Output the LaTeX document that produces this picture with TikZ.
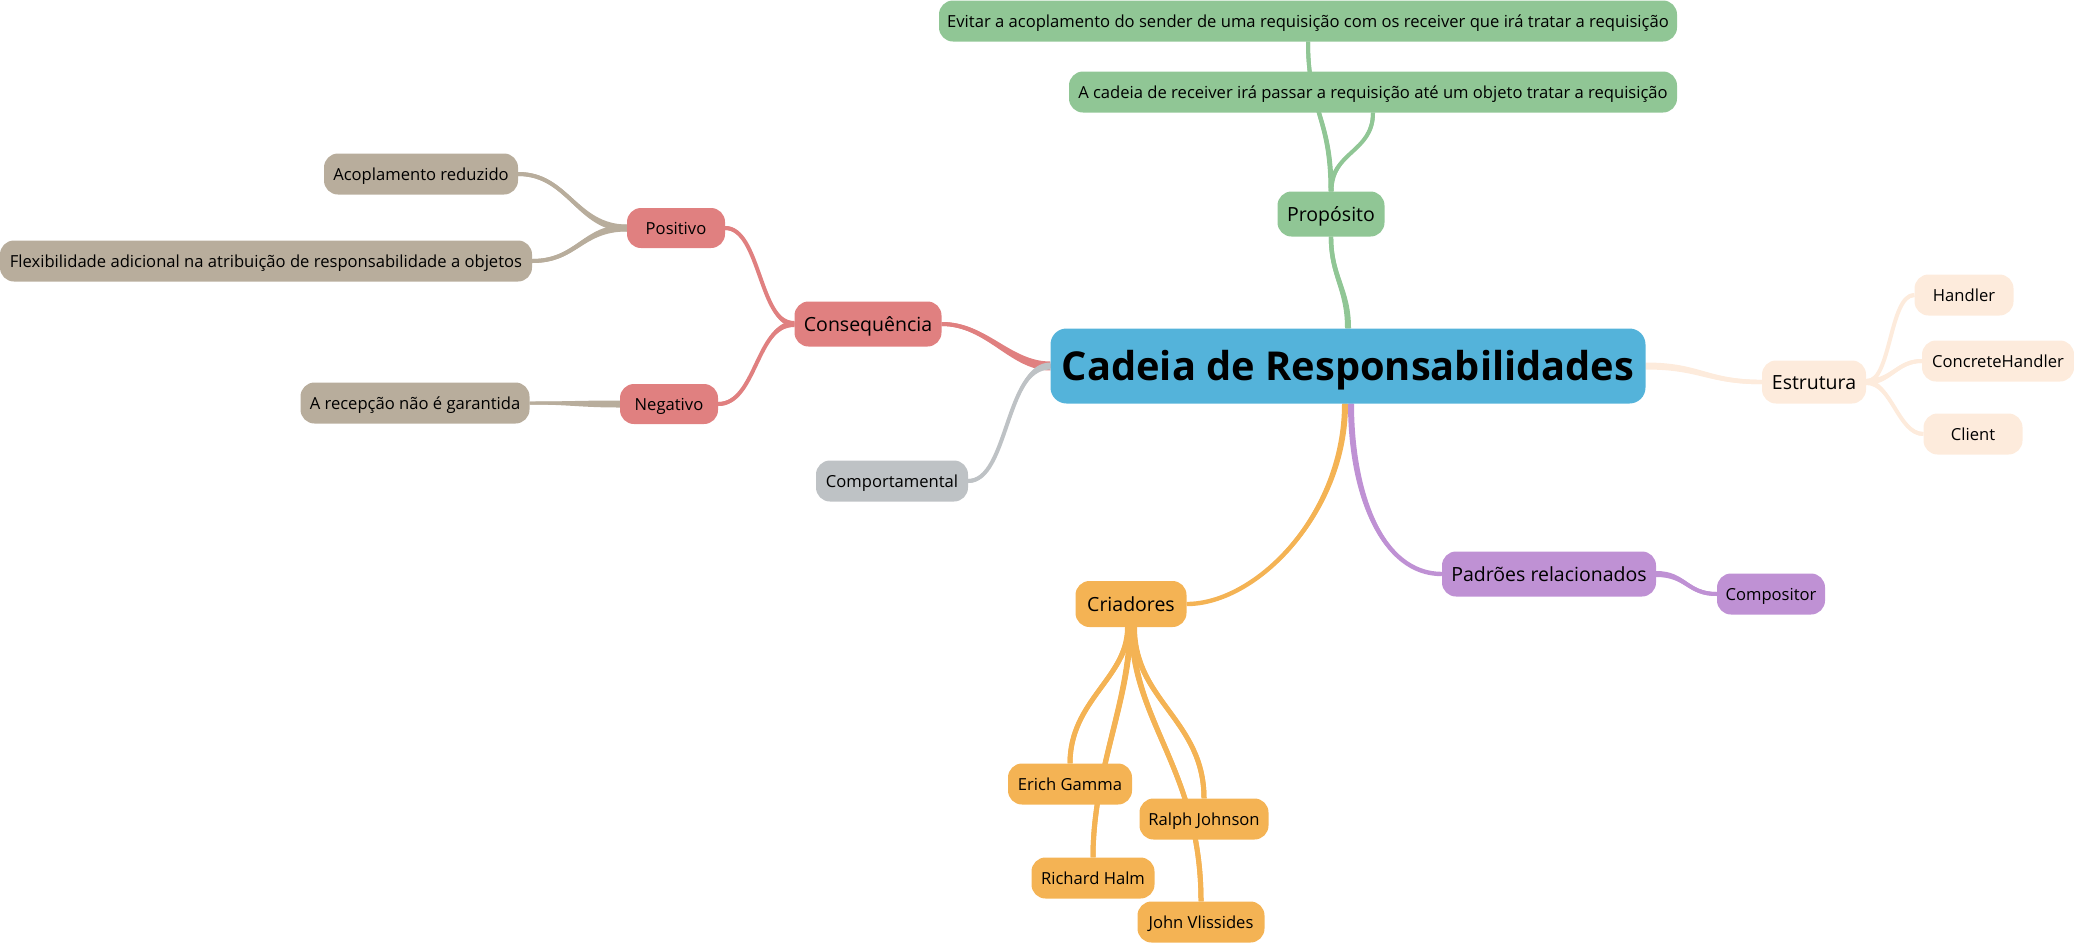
\documentclass[tikz,border=0pt]{standalone}
\usepackage{fontspec}
\setmainfont{Open Sans}
\usetikzlibrary{calc}
\pgfdeclarelayer{bg}
\pgfsetlayers{bg,main}
\definecolor{cblue}{HTML}{54B3DA}
\definecolor{cgreen}{HTML}{90C695}
\definecolor{cred}{HTML}{E08080}
\definecolor{ctan}{HTML}{B8AD9C}
\definecolor{cgrey}{HTML}{BEC2C5}
\definecolor{cpeach}{HTML}{FDEBDC}
\definecolor{cpurple}{HTML}{BF91D4}
\definecolor{corange}{HTML}{F4B354}
\tikzset{
 mmbox/.style={rounded corners=14pt, inner sep=0pt, align=center, text=black},
 lvlroot/.style={mmbox, rounded corners=16pt, font=\fontsize{39.8}{40}\selectfont\bfseries, text height=39.8pt, text depth=10.3pt},
 lvlone/.style={mmbox, font=\fontsize{19.5}{20}\selectfont, text height=19.5pt, text depth=5pt},
 lvltwo/.style={mmbox, font=\fontsize{16.6}{17}\selectfont, text height=16.6pt, text depth=4.3pt},
 sz/.style 2 args={minimum width=#1pt, minimum height=#2pt},
}
% horizontal-leaving tapered connector
\newcommand\conH[7]{%
 \fill[#1] ($(#2)+(0,-#6)$) .. controls ($(#2)+(#3)+(0,-#6)$) and ($(#4)+(#5)+(0,-#7)$) .. ($(#4)+(0,-#7)$) -- ($(#4)+(0,#7)$) .. controls ($(#4)+(#5)+(0,#7)$) and ($(#2)+(#3)+(0,#6)$) .. ($(#2)+(0,#6)$) -- cycle;
 \draw[#1,line width={2*#7}] (#2) .. controls ($(#2)+(#3)$) and ($(#4)+(#5)$) .. (#4);}
% vertical-leaving tapered connector
\newcommand\conV[7]{%
 \fill[#1] ($(#2)+(-#6,0)$) .. controls ($(#2)+(#3)+(-#6,0)$) and ($(#4)+(#5)+(-#7,0)$) .. ($(#4)+(-#7,0)$) -- ($(#4)+(#7,0)$) .. controls ($(#4)+(#5)+(#7,0)$) and ($(#2)+(#3)+(#6,0)$) .. ($(#2)+(#6,0)$) -- cycle;
 \draw[#1,line width={2*#7}] (#2) .. controls ($(#2)+(#3)$) and ($(#4)+(#5)$) .. (#4);}
\begin{document}
\begin{tikzpicture}[x=1pt,y=-1pt]
\useasboundingbox (0,0) rectangle (2074,943);
% nodes
\node[lvlroot, fill=cblue, sz={595}{75}] (root) at (1348,366) {Cadeia de Responsabilidades};
\node[lvlone, fill=cgreen, sz={107}{45}] (prop) at (1331,214) {Propósito};
\node[lvltwo, fill=cgreen, sz={738}{41}] (evitar) at (1308,21) {Evitar a acoplamento do sender de uma requisição com os receiver que irá tratar a requisição};
\node[lvltwo, fill=cgreen, sz={608}{41}] (cadeia) at (1373,92) {A cadeia de receiver irá passar a requisição até um objeto tratar a requisição};
\node[lvlone, fill=cred, sz={147}{45}] (cons) at (868,324) {Consequência};
\node[lvltwo, fill=cred, sz={98}{40}] (pos) at (676,228) {Positivo};
\node[lvltwo, fill=cred, sz={98}{40}] (neg) at (669,404) {Negativo};
\node[lvltwo, fill=ctan, sz={194}{41}] (acop) at (421,174) {Acoplamento reduzido};
\node[lvltwo, fill=ctan, sz={532}{41}] (flex) at (266,261) {Flexibilidade adicional na atribuição de responsabilidade a objetos};
\node[lvltwo, fill=ctan, sz={229}{41}] (recep) at (415,403) {A recepção não é garantida};
\node[lvltwo, fill=cgrey, sz={152}{41}] (comp) at (892,481) {Comportamental};
\node[lvlone, fill=cpeach, sz={104}{43}] (estr) at (1814,382) {Estrutura};
\node[lvltwo, fill=cpeach, sz={99}{41}] (hand) at (1964,295) {Handler};
\node[lvltwo, fill=cpeach, sz={152}{41}] (conc) at (1998,361) {ConcreteHandler};
\node[lvltwo, fill=cpeach, sz={99}{41}] (client) at (1973,434) {Client};
\node[lvlone, fill=cpurple, sz={214}{45}] (padr) at (1549,574) {Padrões relacionados};
\node[lvltwo, fill=cpurple, sz={108}{41}] (compo) at (1771,594) {Compositor};
\node[lvlone, fill=corange, sz={111}{46}] (cria) at (1131,604) {Criadores};
\node[lvltwo, fill=corange, sz={124}{41}] (erich) at (1070,784) {Erich Gamma};
\node[lvltwo, fill=corange, sz={129}{41}] (ralph) at (1204,819) {Ralph Johnson};
\node[lvltwo, fill=corange, sz={123}{41}] (richard) at (1093,878) {Richard Halm};
\node[lvltwo, fill=corange, sz={127}{41}] (john) at (1201,922) {John Vlissides};
\coordinate (rsp) at ($(root.south)+(3,0)$);
\coordinate (rso) at ($(root.south)+(-3,0)$);
\coordinate (cs1) at ($(cria.south)+(-3,0)$);
\coordinate (cs2) at ($(cria.south)+(-1,0)$);
\coordinate (cs3) at ($(cria.south)+(1,0)$);
\coordinate (cs4) at ($(cria.south)+(3,0)$);
% connectors
\begin{pgfonlayer}{bg}
\conV{cgreen}{root.north}{0,-40}{prop.south}{0,40}{3}{2.2}
\conV{cgreen}{prop.north}{0,-75}{evitar.south}{0,70}{2.5}{2}
\conV{cgreen}{prop.north}{0,-40}{cadeia.south}{0,40}{2.5}{2}
\conH{cred}{root.west}{-40,0}{cons.east}{45,0}{4.5}{2}
\conH{cgrey}{root.west}{-45,0}{comp.east}{40,0}{3.5}{2}
\conH{cred}{cons.west}{-35,0}{pos.east}{35,0}{3}{2}
\conH{cred}{cons.west}{-38,0}{neg.east}{38,0}{3}{2}
\conH{ctan}{pos.west}{-50,0}{acop.east}{50,0}{3.5}{2}
\conH{ctan}{pos.west}{-45,0}{flex.east}{45,0}{3.5}{2}
\conH{ctan}{neg.west}{-40,0}{recep.east}{40,0}{3.5}{1.5}
\conH{cpeach}{root.east}{55,0}{estr.west}{-55,0}{3.5}{2.2}
\conH{cpeach}{estr.east}{25,0}{hand.west}{-25,0}{3}{2}
\conH{cpeach}{estr.east}{25,0}{conc.west}{-25,0}{3}{2}
\conH{cpeach}{estr.east}{25,0}{client.west}{-25,0}{3}{2}
\conH{cpurple}{padr.east}{30,0}{compo.west}{-30,0}{3}{2}
\conV{cpurple}{rsp}{0,90}{padr.west}{-60,0}{3}{2.2}
\conV{corange}{rso}{0,110}{cria.east}{70,0}{3}{2.2}
\conV{corange}{cs1}{0,50}{erich.north}{0,-63}{3}{2.5}
\conV{corange}{cs2}{0,73}{richard.north}{0,-87}{3}{2.5}
\conV{corange}{cs4}{0,73}{ralph.north}{0,-78}{3}{2.5}
\conV{corange}{cs3}{0,95}{john.north}{0,-131}{3}{2.5}
\end{pgfonlayer}
\end{tikzpicture}
\end{document}
